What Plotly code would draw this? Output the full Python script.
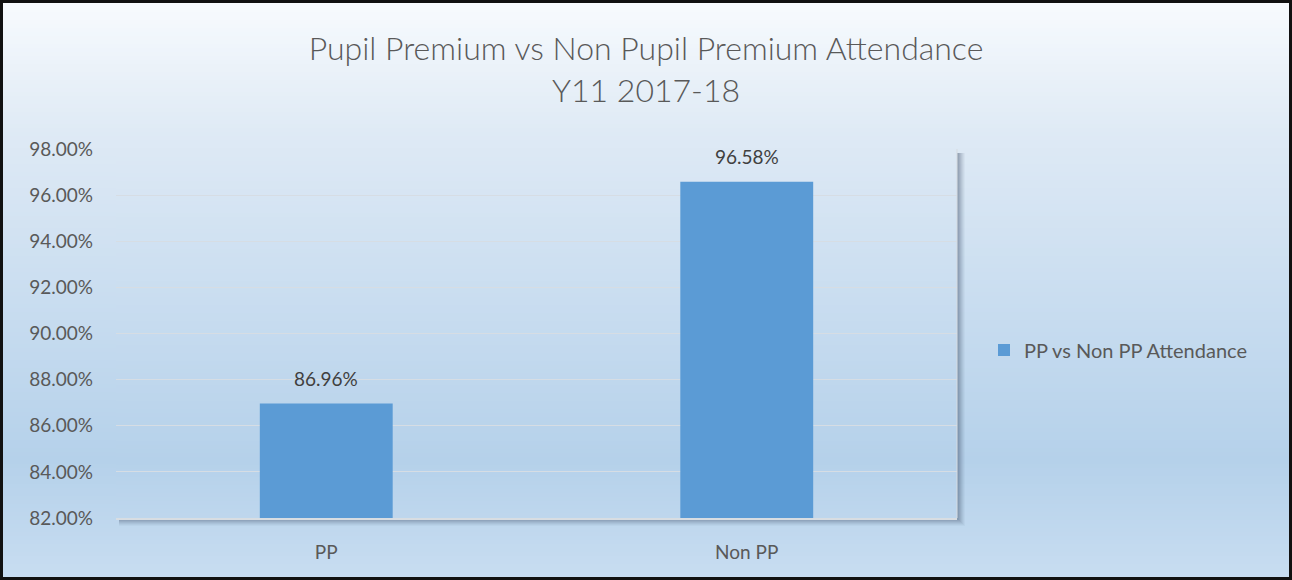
import plotly.graph_objects as go

categories = ["PP", "Non PP"]
values = [0.8696, 0.9658]
series_name = "PP vs Non PP Attendance"
title_lines = ["Pupil Premium vs Non Pupil Premium Attendance", "Y11 2017-18"]

W, H = 1292, 580
ML, MR, MT, MB = 116, 335, 149, 62
PW, PH = W - ML - MR, H - MT - MB
FONT = "Lato, Open Sans, sans-serif"

def px(x):
    return (x - ML) / PW

def py(y):
    return 1 - (y - MT) / PH

def lerp(c1, c2, t):
    return tuple(round(a + (b - a) * t) for a, b in zip(c1, c2))

stops = [(0, (248, 251, 254)), (130, (223, 234, 245)), (300, (201, 221, 240)),
         (460, (181, 209, 234)), (580, (200, 221, 241))]

def grad(y):
    for (y0, c0), (y1, c1) in zip(stops, stops[1:]):
        if y0 <= y <= y1:
            return lerp(c0, c1, (y - y0) / (y1 - y0))
    return stops[-1][1]

def gradient_strips(x0, x1, ya, yb, step=4):
    out = []
    y = ya
    while y < yb:
        y2 = min(y + step, yb)
        c = grad((y + y2) / 2)
        out.append(dict(type="rect", xref="paper", yref="paper", layer="below",
                        x0=px(x0), x1=px(x1), y0=py(y), y1=py(y2),
                        fillcolor="rgb(%d,%d,%d)" % c, line=dict(width=0)))
        y = y2
    return out

shapes = gradient_strips(0, W, 0, H)

# soft plot-area shadow (offset down/right)
for d, a in [(8, 0.04), (7, 0.05), (6, 0.06), (5, 0.07), (4, 0.08), (3, 0.09), (2, 0.10)]:
    shapes.append(dict(type="rect", xref="paper", yref="paper", layer="below",
                       x0=px(ML + 3), x1=px(ML + PW + d), y0=py(MT + PH + d), y1=py(MT + 4),
                       fillcolor="rgba(50,70,95,%g)" % a, line=dict(width=0)))
# restore plot-area fill over the shadow
shapes += gradient_strips(ML, ML + PW, MT, MT + PH, step=4)
# plot area right edge
shapes.append(dict(type="line", xref="paper", yref="paper", layer="below",
                   x0=1, x1=1, y0=0, y1=1, line=dict(color="#d6dbe0", width=1)))

# chart border
shapes.append(dict(type="rect", xref="paper", yref="paper", layer="above",
                   x0=px(1.5), x1=px(W - 1.5), y0=py(H - 1.5), y1=py(1.5),
                   line=dict(color="#111111", width=3), fillcolor="rgba(0,0,0,0)"))

fig = go.Figure()
fig.add_trace(go.Bar(
    x=categories, y=values, name=series_name,
    marker=dict(color="#5B9BD5", line=dict(width=0)),
    showlegend=True,
))

annotations = [dict(x=c, y=v, xref="x", yref="y", text=f"{v:.2%}", showarrow=False,
                    yanchor="bottom", yshift=12,
                    font=dict(family=FONT, size=19, color="#404040"))
               for c, v in zip(categories, values)]

fig.update_layout(
    width=W, height=H,
    margin=dict(l=ML, r=MR, t=MT, b=MB, pad=0),
    paper_bgcolor="rgb(210,226,242)",
    plot_bgcolor="rgba(0,0,0,0)",
    bargap=0.684,
    font=dict(family=FONT, color="#595959"),
    title=dict(text="<br>".join(title_lines), x=0.5, xanchor="center", xref="container",
               y=1 - 60 / H, yanchor="top", yref="container",
               font=dict(size=32, color="#595959", family=FONT, weight=300)),
    showlegend=True,
    legend=dict(x=px(984), y=py(350), xanchor="left", yanchor="middle",
                bgcolor="rgba(0,0,0,0)", font=dict(size=20, color="#595959"),
                itemclick=False),
    shapes=shapes,
    annotations=annotations,
    xaxis=dict(showgrid=False, showline=True, linecolor="#d8dde2", linewidth=2,
               ticks="", tickfont=dict(size=19, color="#595959"), ticklabelstandoff=16),
    yaxis=dict(range=[0.82, 0.98], dtick=0.02, tickformat=".2%",
               showgrid=True, gridcolor="#d6dde4", gridwidth=1, zeroline=False,
               showline=False, ticks="", tickfont=dict(size=19, color="#595959"),
               ticklabelstandoff=22),
)

fig.write_html("out.html", config={"displayModeBar": False},
               post_script="document.body.style.margin='0';")
